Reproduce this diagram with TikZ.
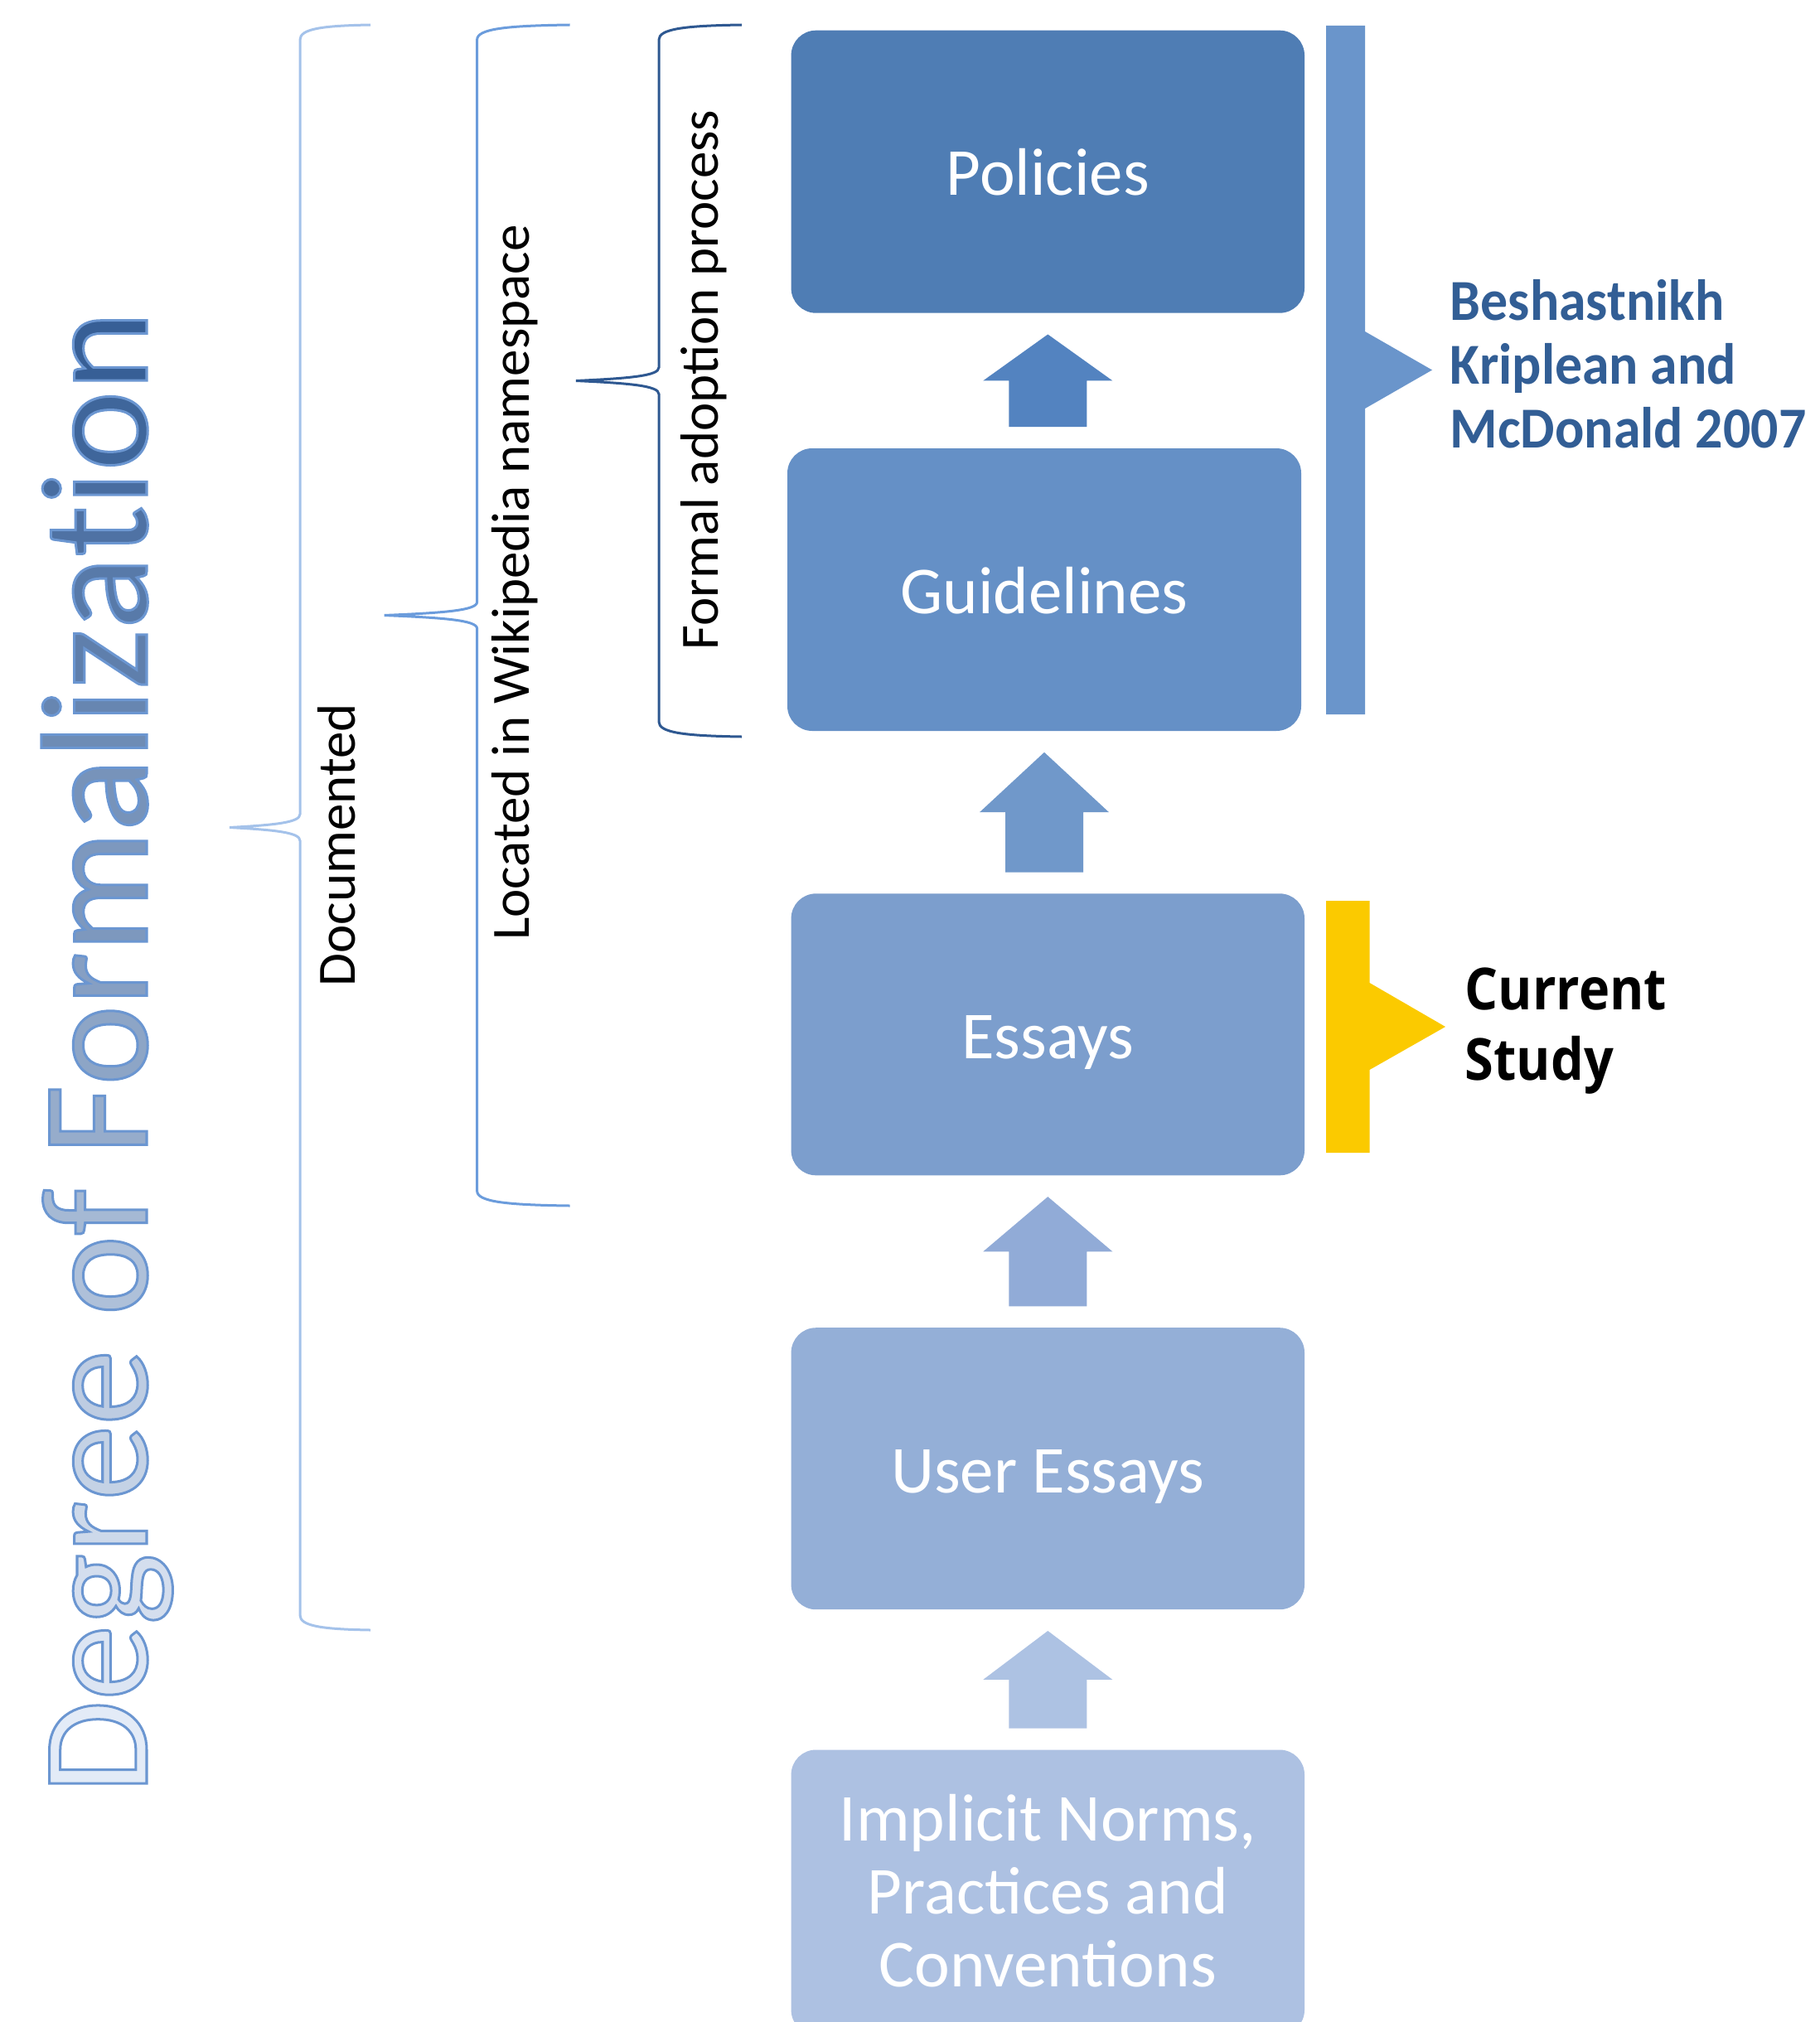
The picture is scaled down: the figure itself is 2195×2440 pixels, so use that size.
\documentclass[tikz,border=0pt]{standalone}
\usepackage{fontspec}
\setmainfont{Carlito}
\newfontfamily\studyfont[FakeStretch=0.9]{Open Sans}
\newfontfamily\reffont[FakeStretch=0.94]{Carlito}
\usetikzlibrary{calc}

\definecolor{polcol}{HTML}{4F7DB4}
\definecolor{guidecol}{HTML}{6590C6}
\definecolor{essaycol}{HTML}{7C9ECD}
\definecolor{usercol}{HTML}{94AFD7}
\definecolor{normcol}{HTML}{ADC1E2}
\definecolor{arrA}{HTML}{5383C0}
\definecolor{arrB}{HTML}{7098CA}
\definecolor{arrC}{HTML}{91ABD7}
\definecolor{arrD}{HTML}{ADC2E3}
\definecolor{barblue}{HTML}{6A95CB}
\definecolor{studyyellow}{HTML}{FBCA00}
\definecolor{refblue}{HTML}{325E95}
\definecolor{docbrace}{HTML}{A4C2EA}
\definecolor{locbrace}{HTML}{6B9CDC}
\definecolor{formbrace}{HTML}{2E5891}
\definecolor{deglight}{HTML}{E3EBF7}
\definecolor{degdark}{HTML}{375F96}

% outlined glyphs for the big title
\newcommand\strokeon{\special{pdf:literal direct 2 Tr 0.75 w}}
\newcommand\strokecol{\special{pdf:literal direct 0.42 0.59 0.82 RG}}
\newcommand\strokeoff{\special{pdf:literal direct 0 Tr}}

\tikzset{
  tier/.style={rectangle, rounded corners=7.5pt, inner sep=0pt,
    minimum width=154.85pt, minimum height=85pt, text=white,
    text height=14.4pt, text depth=0pt,
    font=\fontsize{20.25pt}{22pt}\selectfont},
  sidelabel/.style={rotate=90, anchor=base, inner sep=0pt,
    font=\fontsize{16.25pt}{19pt}\selectfont},
  reflabel/.style={anchor=base west, inner sep=0pt, text=refblue,
    font=\reffont\bfseries\fontsize{17.5pt}{19.25pt}\selectfont},
  studylabel/.style={anchor=base west, inner sep=0pt, text=black,
    font=\studyfont\bfseries\fontsize{17.5pt}{21.4pt}\selectfont},
}

\begin{document}
\begin{tikzpicture}[x=0.25pt,y=-0.25pt]
\useasboundingbox (0,0) rectangle (2195,2440);
%% the five tiers
\node[tier, fill=polcol, minimum height=85.25pt] (pol) at (1264.3,207.2) {Policies};
\node[tier, fill=guidecol, minimum width=155pt, minimum height=85.25pt] (guide) at (1260,711.5) {Guidelines};
\node[tier, fill=essaycol] (essay) at (1264.3,1248.3) {Essays};
\node[tier, fill=usercol] (user) at (1264.3,1772.2) {User Essays};
\node[tier, fill=normcol, minimum height=86pt, text depth=45.6pt] (norms) at (1264.3,2283.5)
  {\begin{tabular}[t]{@{}c@{}}Implicit Norms,\\Practices and\\Conventions\end{tabular}};
%% block arrows between tiers
\foreach \lo/\up/\col in {guide/pol/arrA, essay/guide/arrB, user/essay/arrC, norms/user/arrD}
  \fill[\col] let \p1=(\lo.north), \p2=(\up.south), \p3=($(\lo.north)!0.5!(\up.south)$) in
    (\x2,\y2-6.25pt) -- (\x2+19.5pt,\y3) -- (\x2+11.75pt,\y3) -- (\x2+11.75pt,\y1+6.25pt)
    -- (\x2-11.75pt,\y1+6.25pt) -- (\x2-11.75pt,\y3) -- (\x2-19.5pt,\y3) -- cycle;
%% braces on the left
\foreach \col/\xs/\d/\ym/\yb in {docbrace/362/85/998.5/1967, locbrace/575.6/112/742.5/1455, formbrace/795/100/459.5/889}
  \draw[\col, line width=0.75pt] ({\xs+\d},30) .. controls ({\xs+0.3*\d},31) and (\xs,35) .. (\xs,48)
    -- (\xs,{\ym-16}) .. controls (\xs,{\ym-6}) and ({\xs-0.35*\d},{\ym-3}) .. ({\xs-\d},\ym)
    .. controls ({\xs-0.35*\d},{\ym+3}) and (\xs,{\ym+6}) .. (\xs,{\ym+16})
    -- (\xs,{\yb-18}) .. controls (\xs,{\yb-5}) and ({\xs+0.3*\d},{\yb-1}) .. ({\xs+\d},\yb);
\node[sidelabel] (doclabel) at (428,1020) {Documented};
\node[sidelabel] (loclabel) at (638,703) {Located in Wikipedia namespace};
\node[sidelabel] (formlabel) at (866.6,458.5) {Formal adoption process};
%% title
\node[rotate=90, anchor=base, inner sep=0pt, font=\fontsize{45.75pt}{50pt}\selectfont] (degree) at (177,1270)
  {\strokeon\foreach \ch [count=\k] in {D,e,g,r,e,e,{~},o,f,{~},F,o,r,m,a,l,i,z,a,t,i,o,n}
    {\pgfmathtruncatemacro\pct{100*(\k-1)/22}\textcolor{degdark!\pct!deglight}{\strokecol\ch}}\strokeoff};
%% brackets on the right
\fill[barblue] (1600,31) -- (1647,31) -- (1647,400) -- (1728,446.5) -- (1647,493) -- (1647,862) -- (1600,862) -- cycle;
\node[reflabel] (prior) at (1749,386)
  {\begin{tabular}[t]{@{}l@{}}Beshastnikh\\Kriplean and\\McDonald 2007\end{tabular}};
\fill[studyyellow] (1600,1087) -- (1652.5,1087) -- (1652.5,1186) -- (1744,1239) -- (1652.5,1291) -- (1652.5,1391) -- (1600,1391) -- cycle;
\node[studylabel] (study) at (1767,1218)
  {\begin{tabular}[t]{@{}l@{}}Current\\Study\end{tabular}};
\end{tikzpicture}
\end{document}
